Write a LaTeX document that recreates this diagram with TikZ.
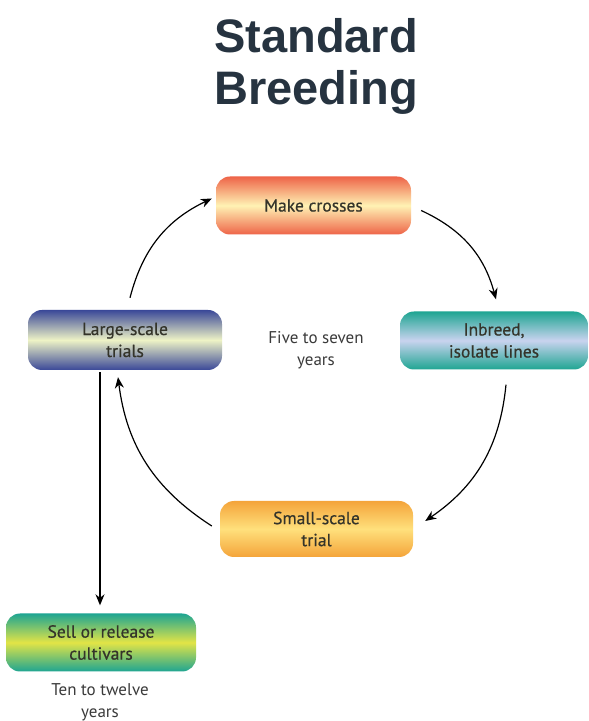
\documentclass[tikz,border=0pt]{standalone}
\usepackage{fontspec}
\setmainfont{PT Sans}
\newfontfamily\titlefont{Liberation Sans}
\newfontfamily\boxfont[FakeBold=0.6]{PT Sans}
\usetikzlibrary{arrows.meta}
\definecolor{titleink}{HTML}{263340}
\definecolor{boxink}{HTML}{34342A}
\definecolor{noteink}{HTML}{3A3A3A}
\definecolor{coral}{HTML}{EE6448}
\definecolor{paleyellow}{HTML}{FFF2B4}
\definecolor{tealedge}{HTML}{1EA592}
\definecolor{lavender}{HTML}{C9D3EF}
\definecolor{orangeedge}{HTML}{F4A43A}
\definecolor{butter}{HTML}{FFE07C}
\definecolor{navy}{HTML}{3A4898}
\definecolor{palelime}{HTML}{EEF3C6}
\definecolor{lemon}{HTML}{E2E446}
\tikzset{
  stage/.style={rounded corners=14pt, minimum height=58pt, align=center,
    text=boxink, font=\boxfont\fontsize{17.5}{22}\selectfont, inner sep=0pt},
  note/.style={align=center, text=noteink, font=\fontsize{17}{22}\selectfont},
  cyc/.style={-{Stealth[length=11pt,width=9pt]}, line width=1.2pt, black},
}
\begin{document}
\begin{tikzpicture}[x=1pt,y=1pt]
\useasboundingbox (0,0) rectangle (589,721);
\fill[white] (0,0) rectangle (589,721);

% title
\node[text=titleink, font=\titlefont\bfseries\fontsize{47}{52}\selectfont] (t1) at (316,685) {Standard};
\node[text=titleink, font=\titlefont\bfseries\fontsize{47}{52}\selectfont] (t2) at (316,629) {Breeding};

% the five stages
\node[stage, minimum width=195pt, top color=coral, bottom color=coral, middle color=paleyellow] (mc) at (313.5,515.5) {Make crosses};
\node[stage, minimum width=188pt, top color=tealedge, bottom color=tealedge, middle color=lavender] (ib) at (494,380.5) {Inbreed,\\isolate lines};
\node[stage, minimum width=193pt, minimum height=56pt, top color=orangeedge, bottom color=orangeedge, middle color=butter] (ss) at (316.5,192) {Small-scale\\trial};
\node[stage, minimum width=194pt, minimum height=60pt, top color=navy, bottom color=navy, middle color=palelime] (ls) at (125,381) {Large-scale\\trials};
\node[stage, minimum width=190pt, top color=tealedge, bottom color=tealedge, middle color=lemon] (sr) at (101,78.5) {Sell or release\\cultivars};

% notes
\node[note] (five) at (316,371) {Five to seven\\years};
\node[note] (ten) at (100,19) {Ten to twelve\\years};

% breeding cycle
\draw[cyc] ([shift={(10,-5)}]mc.east) to[bend left=25] ([shift={(2,12)}]ib.north);
\draw[cyc] ([shift={(12,-15)}]ib.south) to[bend left=25] ([shift={(12,8)}]ss.east);
\draw[cyc] ([shift={(-8,3)}]ss.west) to[bend left=25] ([shift={(-7,-7)}]ls.south);
\draw[cyc] ([shift={(5,12)}]ls.north) to[bend left=25] ([shift={(-4,7)}]mc.west);

% release
\draw[cyc] ([shift={(-25,-2)}]ls.south) -- ([shift={(-1,8)}]sr.north);
\end{tikzpicture}
\end{document}
